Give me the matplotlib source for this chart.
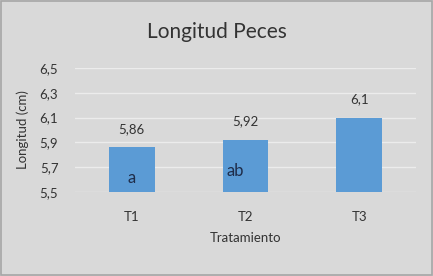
import matplotlib
matplotlib.use("Agg")
import matplotlib.pyplot as plt
from matplotlib.patches import Rectangle

categories = ["T1", "T2", "T3"]
values = [5.86, 5.92, 6.1]
value_labels = ["5,86", "5,92", "6,1"]
letters = ["a", "ab", ""]
yticks = [5.5, 5.7, 5.9, 6.1, 6.3, 6.5]
ytick_labels = ["5,5", "5,7", "5,9", "6,1", "6,3", "6,5"]

plt.rcParams['font.family'] = ['Lato', 'DejaVu Sans']
bg = "#d9d9d9"
txt = "#333333"

fig = plt.figure(figsize=(4.33, 2.76), dpi=100, facecolor=bg)
fig.patches.append(Rectangle((0.003, 0.004), 0.994, 0.992, transform=fig.transFigure,
                             fill=False, edgecolor="#a6a6a6", linewidth=1.2))
ax = fig.add_axes([75/433, 1-192/276, (416-75)/433, (192-68)/276])
ax.set_facecolor(bg)
x = range(len(categories))
ax.bar(x, [v - 5.5 for v in values], bottom=5.5, width=0.4, color="#5b9bd5", zorder=3)
ax.set_ylim(5.5, 6.5)
ax.set_xlim(-0.5, 2.5)
ax.set_yticks(yticks)
ax.set_yticklabels(ytick_labels)
ax.set_xticks(list(x))
ax.set_xticklabels(categories)
ax.yaxis.grid(True, color="#ececec", linewidth=1, zorder=0)
for s in ax.spines.values():
    s.set_visible(False)
ax.tick_params(length=0, labelsize=9.5, colors=txt, pad=12)
ax.tick_params(axis='x', pad=14)
for i, (v, lab) in enumerate(zip(values, value_labels)):
    ax.annotate(lab, (i, v), xytext=(0, 9), textcoords="offset points",
                ha="center", va="bottom", fontsize=9.5, color=txt)
letter_y = [5.61, 5.67, 5.6]
letter_dx = [0.0, -0.09, 0.0]
for i, (l, ly, dx) in enumerate(zip(letters, letter_y, letter_dx)):
    if l:
        ax.text(i + dx, ly, l, ha="center", va="center",
                fontsize=12, color="#1f2d4a", zorder=4)
ax.set_xlabel("Tratamiento", fontsize=9.5, color=txt, labelpad=6)
ax.set_ylabel("Longitud (cm)", fontsize=9.5, color=txt, labelpad=8)
fig.text(0.5, 1 - 32/276, "Longitud Peces", ha="center", va="center",
         fontsize=15, color=txt)
fig.savefig("out.png", dpi=100, facecolor=bg)
